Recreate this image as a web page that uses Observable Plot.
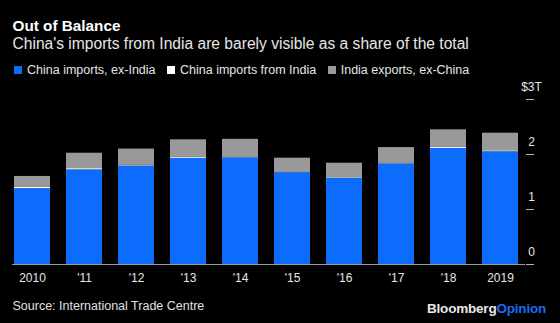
<!DOCTYPE html>
<html>
<head>
<meta charset="utf-8">
<script src="https://cdn.jsdelivr.net/npm/d3@7"></script>
<script src="https://cdn.jsdelivr.net/npm/@observablehq/plot@0.6"></script>
<style>
  html, body { margin: 0; padding: 0; background: #000; }
  body { width: 560px; height: 323px; position: relative; overflow: hidden; font-family: "Liberation Sans", Arial, Helvetica, sans-serif; }
  .abs { position: absolute; line-height: 1; white-space: nowrap; }
  #title { left: 12.5px; top: 18px; font-size: 15.3px; font-weight: bold; color: #fff; }
  #subtitle { left: 12.5px; top: 36px; font-size: 15.6px; color: #e6e6e6; }
  #legend { left: 14px; top: 63.8px; font-size: 12.5px; color: #e6e6e6; display: flex; align-items: center; }
  #legend .item { display: flex; align-items: center; margin-right: 11.5px; }
  #legend .sw { width: 8px; height: 8px; margin-right: 5px; display: inline-block; }
  #chart { position: absolute; left: 0; top: 80px; }
  #source { left: 12.5px; top: 300.2px; font-size: 12.5px; color: #e0e0e0; }
  #logo { left: 427px; top: 301.8px; font-size: 13.5px; font-weight: bold; color: #e8e8e8; letter-spacing: -0.2px; }
  #logo span { color: #1a6cf0; }
</style>
</head>
<body>
<div id="title" class="abs">Out of Balance</div>
<div id="subtitle" class="abs">China's imports from India are barely visible as a share of the total</div>
<div id="legend" class="abs"></div>
<div id="chart"></div>
<div id="source" class="abs">Source: International Trade Centre</div>
<div id="logo" class="abs">Bloomberg<span>Opinion</span></div>
<script>
// ---- data (trillions of US$) ----
const years = ["2010", "2011", "2012", "2013", "2014", "2015", "2016", "2017", "2018", "2019"];
const yearLabels = ["2010", "'11", "'12", "'13", "'14", "'15", "'16", "'17", "'18", "2019"];
const seriesNames = ["China imports, ex-India", "China imports from India", "India exports, ex-China"];
const chinaExIndia = [1.38, 1.72, 1.79, 1.93, 1.94, 1.67, 1.57, 1.83, 2.11, 2.05];
const chinaFromIndia = [0.021, 0.023, 0.019, 0.017, 0.016, 0.013, 0.012, 0.016, 0.019, 0.018];
const indiaExChina = [0.20, 0.28, 0.29, 0.32, 0.32, 0.25, 0.26, 0.28, 0.32, 0.32];
const seriesColors = ["#0b6cfd", "#ffffff", "#999999"];
const yTicks = [0, 1, 2, 3];
const yTickLabels = ["0", "1", "2", "$3T"];

// ---- tidy table ----
const seriesValues = [chinaExIndia, chinaFromIndia, indiaExChina];
const data = [];
years.forEach((y, i) => {
  seriesNames.forEach((s, k) => data.push({year: y, series: s, value: seriesValues[k][i]}));
});
const labelOf = new Map(years.map((y, i) => [y, yearLabels[i]]));
const yTickData = yTicks.map((v, i) => ({value: v, label: yTickLabels[i]}));

// ---- legend ----
const legend = document.getElementById("legend");
seriesNames.forEach((s, k) => {
  const item = document.createElement("span");
  item.className = "item";
  const sw = document.createElement("span");
  sw.className = "sw";
  sw.style.background = seriesColors[k];
  item.appendChild(sw);
  item.appendChild(document.createTextNode(s));
  legend.appendChild(item);
});

// ---- chart ----
const chart = Plot.plot({
  width: 560,
  height: 204,
  marginTop: 19,
  marginBottom: 20,
  marginLeft: 12,
  marginRight: 35,
  style: {background: "#000", color: "#e0e0e0", fontSize: "12px", fontFamily: "'Liberation Sans', Arial, Helvetica, sans-serif"},
  x: {type: "band", domain: years, paddingInner: 0.3, paddingOuter: 0, insetRight: 5.5},
  y: {domain: [0, 3]},
  color: {domain: seriesNames, range: seriesColors},
  marks: [
    Plot.barY(data, {x: "year", y: "value", fill: "series", order: seriesNames}),
    Plot.ruleY([0], {stroke: "#9a9a9a", strokeWidth: 1}),
    Plot.axisX({tickSize: 0, tickPadding: 8.5, tickFormat: d => labelOf.get(d), fill: "#e6e6e6", label: null}),
    Plot.axisY({anchor: "right", ticks: yTicks, tickSize: 8, tickFormat: () => "", stroke: "#b5b5b5", label: null}),
    Plot.text(yTickData, {y: "value", text: "label", frameAnchor: "right", dx: 6, dy: -12, textAnchor: "middle", fill: "#e6e6e6", fontSize: 12})
  ]
});
document.getElementById("chart").appendChild(chart);
</script>
</body>
</html>
